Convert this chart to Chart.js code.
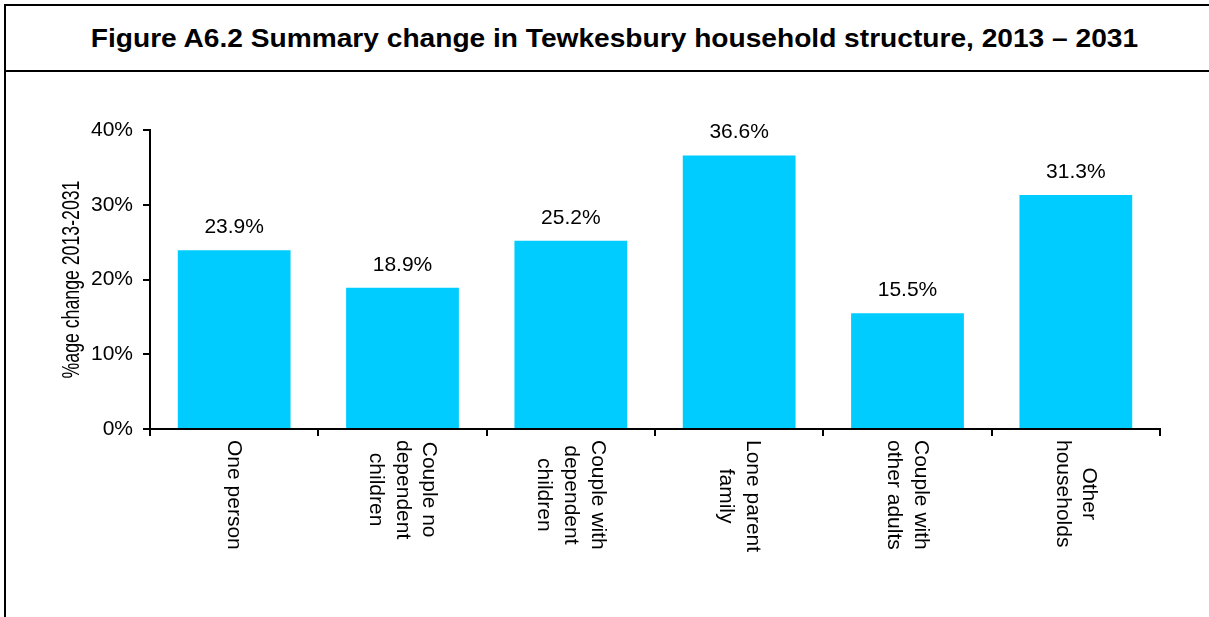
<!DOCTYPE html>
<html>
<head>
<meta charset="utf-8">
<script src="https://cdn.jsdelivr.net/npm/chart.js@4.4.1/dist/chart.umd.min.js"></script>
<style>
  html, body { margin: 0; padding: 0; background: #fff; }
  body { width: 1209px; height: 617px; overflow: hidden; position: relative; font-family: Arial, "Liberation Sans", sans-serif; }
  #marco { position: absolute; left: 4px; top: 4px; width: 1217px; height: 700px; border: 2px solid #000; }
  #titulo { height: 64px; line-height: 64px; border-bottom: 2px solid #000; text-align: center; white-space: nowrap; }
  #titulo span { display: inline-block; font-weight: bold; font-size: 25px; color: #000; transform: scaleX(1.125); transform-origin: center; }
  #grafico { position: absolute; left: 0; top: 0; }
</style>
</head>
<body>
<div id="marco">
  <div id="titulo"><span>Figure A6.2 Summary change in Tewkesbury household structure, 2013 – 2031</span></div>
</div>
<canvas id="grafico" width="1209" height="617"></canvas>
<script>
// Datos del gráfico
const categorias = [
    ["One person"],
    ["Couple no", "dependent", "children"],
    ["Couple with", "dependent", "children"],
    ["Lone parent", "family"],
    ["Couple with", "other adults"],
    ["Other", "households"]
];
const valores = [23.9, 18.9, 25.2, 36.6, 15.5, 31.3];
const tituloEjeY = "%age change 2013-2031";

// Etiquetas de valores, categorías giradas y título del eje Y
const etiquetasPlugin = {
    id: "etiquetas",
    afterDraw(chart) {
        const ctx = chart.ctx;
        const meta = chart.getDatasetMeta(0);
        const xScale = chart.scales.x;
        const yScale = chart.scales.y;

        ctx.save();
        ctx.fillStyle = "#000";
        ctx.font = "21px Arial, 'Liberation Sans', sans-serif";
        ctx.textAlign = "center";
        ctx.textBaseline = "alphabetic";
        meta.data.forEach((bar, i) => {
            ctx.fillText(valores[i].toFixed(1) + "%", bar.x, bar.y - 17);
        });

        // Categorías giradas 90° (lectura de arriba hacia abajo)
        categorias.forEach((lineas, i) => {
            const cx = xScale.getPixelForValue(i);
            const ancho = Math.max(...lineas.map(l => ctx.measureText(l).width));
            ctx.save();
            ctx.translate(cx, xScale.top + 11);
            ctx.rotate(Math.PI / 2);
            ctx.textBaseline = "middle";
            lineas.forEach((l, j) => {
                ctx.fillText(l, ancho / 2, (j - (lineas.length - 1) / 2) * 26.7);
            });
            ctx.restore();
        });

        // Título del eje Y (letra estrecha)
        ctx.save();
        ctx.translate(79, (yScale.top + yScale.bottom) / 2);
        ctx.rotate(-Math.PI / 2);
        ctx.scale(0.77, 1);
        ctx.font = "23px Arial, 'Liberation Sans', sans-serif";
        ctx.fillText(tituloEjeY, 0, 0);
        ctx.restore();

        ctx.restore();
    }
};

const ctx = document.getElementById("grafico").getContext("2d");
new Chart(ctx, {
    type: "bar",
    data: {
        labels: categorias,
        datasets: [{
            data: valores,
            backgroundColor: "#00CCFF",
            borderWidth: 0,
            barPercentage: 0.67,
            categoryPercentage: 1
        }]
    },
    options: {
        responsive: false,
        animation: false,
        layout: { padding: { left: 50, right: 49, top: 130, bottom: 88 } },
        plugins: {
            legend: { display: false },
            tooltip: { enabled: false }
        },
        scales: {
            x: {
                offset: true,
                afterFit: s => { s.height = 100; },
                grid: {
                    offset: true,
                    drawOnChartArea: false,
                    drawTicks: true,
                    tickLength: 7,
                    color: "#000",
                    lineWidth: 2
                },
                border: { display: true, color: "#000", width: 2 },
                ticks: { display: false }
            },
            y: {
                min: 0,
                max: 40,
                afterFit: s => { s.width = 100; },
                grid: {
                    drawOnChartArea: false,
                    drawTicks: true,
                    tickLength: 7,
                    color: "#000",
                    lineWidth: 2
                },
                border: { display: true, color: "#000", width: 2 },
                ticks: {
                    stepSize: 10,
                    padding: 10,
                    color: "#000",
                    font: { family: "Arial, 'Liberation Sans', sans-serif", size: 21 },
                    callback: v => v + "%"
                }
            }
        }
    },
    plugins: [etiquetasPlugin]
});
</script>
</body>
</html>
